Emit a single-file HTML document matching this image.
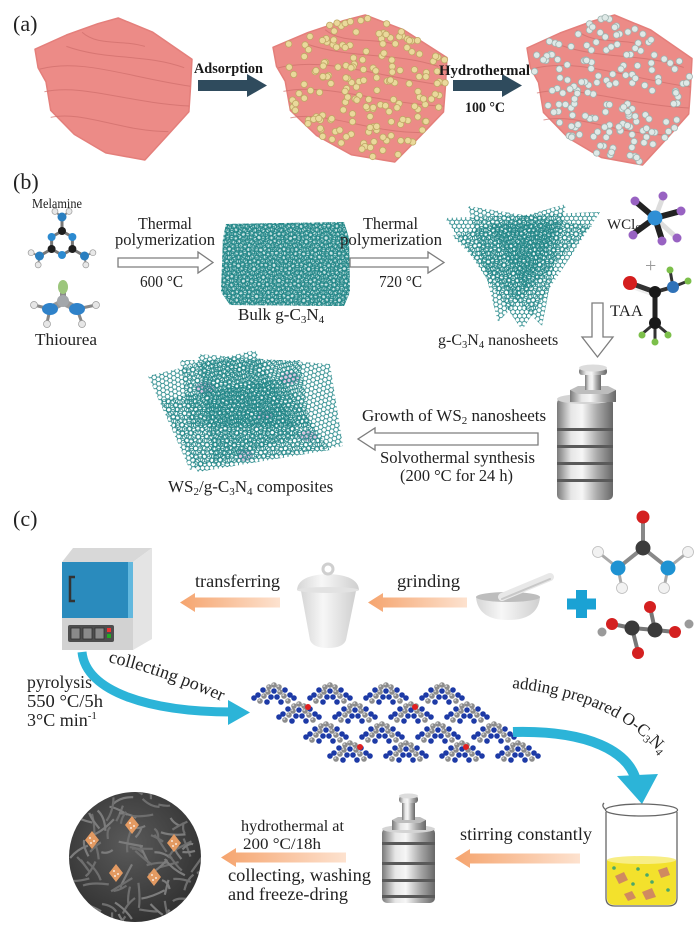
<!DOCTYPE html>
<html><head><meta charset="utf-8">
<style>
html,body{margin:0;padding:0;background:#fff;}
svg{display:block;}
text{font-family:"Liberation Serif",serif;fill:#222;}
.b{font-weight:bold;fill:#1a1a1a;}
</style></head>
<body>
<svg id="s" width="700" height="931" viewBox="0 0 700 931" xmlns="http://www.w3.org/2000/svg">
<defs>
<pattern id="p0" width="4.5" height="7.8" patternUnits="userSpaceOnUse"><path d="M2.25,0V1.3L0,2.6V5.2L2.25,6.5V7.8M2.25,1.3L4.5,2.6V5.2L2.25,6.5" fill="none" stroke="#1f8586" stroke-width="0.85"/></pattern>
<pattern id="p1" width="4.5" height="7.8" patternUnits="userSpaceOnUse" patternTransform="rotate(25)"><path d="M2.25,0V1.3L0,2.6V5.2L2.25,6.5V7.8M2.25,1.3L4.5,2.6V5.2L2.25,6.5" fill="none" stroke="#1f8586" stroke-width="0.85"/></pattern>
<pattern id="p2" width="4.5" height="7.8" patternUnits="userSpaceOnUse" patternTransform="rotate(-20)"><path d="M2.25,0V1.3L0,2.6V5.2L2.25,6.5V7.8M2.25,1.3L4.5,2.6V5.2L2.25,6.5" fill="none" stroke="#1f8586" stroke-width="0.85"/></pattern>
<pattern id="p3" width="4.5" height="7.8" patternUnits="userSpaceOnUse" patternTransform="rotate(50)"><path d="M2.25,0V1.3L0,2.6V5.2L2.25,6.5V7.8M2.25,1.3L4.5,2.6V5.2L2.25,6.5" fill="none" stroke="#1f8586" stroke-width="0.85"/></pattern>
<linearGradient id="metal" x1="0" y1="0" x2="1" y2="0">
<stop offset="0" stop-color="#7a7a7a"/><stop offset="0.25" stop-color="#e6e6e6"/><stop offset="0.45" stop-color="#f6f6f6"/><stop offset="0.72" stop-color="#a9a9a9"/><stop offset="1" stop-color="#686868"/>
</linearGradient>
<linearGradient id="org" x1="0" y1="0" x2="1" y2="0">
<stop offset="0" stop-color="#f5a46e"/><stop offset="1" stop-color="#fde2cf"/>
</linearGradient>
<linearGradient id="cru" x1="0" y1="0" x2="1" y2="0">
<stop offset="0" stop-color="#d6d6d6"/><stop offset="0.4" stop-color="#f7f7f7"/><stop offset="1" stop-color="#cfcfcf"/>
</linearGradient>
<radialGradient id="fl" cx="0.45" cy="0.4" r="0.6">
<stop offset="0" stop-color="#5a5a5a"/><stop offset="1" stop-color="#333"/>
</radialGradient>
<clipPath id="flc"><ellipse cx="135" cy="857" rx="66" ry="65"/></clipPath>
</defs>

<!-- ===== Panel (a) ===== -->
<text x="13" y="31" font-size="22">(a)</text>
<g id="cubes"></g>
<polygon points="198,80 247,80 247,74 267,85.5 247,97 247,91 198,91" fill="#2f4b5d"/>
<polygon points="453,80 502,80 502,74 522,85.5 502,97 502,91 453,91" fill="#2f4b5d"/>
<text class="b" x="194" y="73" font-size="14.5" textLength="69" lengthAdjust="spacingAndGlyphs">Adsorption</text>
<text class="b" x="439" y="75" font-size="14.5" textLength="91" lengthAdjust="spacingAndGlyphs">Hydrothermal</text>
<text class="b" x="465" y="112" font-size="14.5" textLength="40" lengthAdjust="spacingAndGlyphs">100 °C</text>

<!-- ===== Panel (b) ===== -->
<text x="13" y="189" font-size="22">(b)</text>
<text x="32" y="208" font-size="13.5" textLength="50" lengthAdjust="spacingAndGlyphs">Melamine</text>
<g id="mel"></g>
<!-- thiourea -->
<g stroke-linecap="round">
<line x1="63" y1="286" x2="63" y2="302" stroke="#8a8a8a" stroke-width="6"/>
<line x1="63" y1="302" x2="50" y2="309" stroke="#9a9a9a" stroke-width="7"/>
<line x1="63" y1="302" x2="77" y2="309" stroke="#9a9a9a" stroke-width="7"/>
<line x1="50" y1="309" x2="34" y2="305" stroke="#888" stroke-width="3"/>
<line x1="50" y1="309" x2="47" y2="323" stroke="#888" stroke-width="3"/>
<line x1="77" y1="309" x2="96" y2="305" stroke="#888" stroke-width="3"/>
<line x1="77" y1="309" x2="82" y2="323" stroke="#888" stroke-width="3"/>
<ellipse cx="63" cy="287" rx="5" ry="7" fill="#9cc67c"/>
<circle cx="63" cy="301" r="6" fill="#a3a7ab"/>
<ellipse cx="50" cy="309" rx="8" ry="6" fill="#2f82c9"/>
<ellipse cx="77" cy="309" rx="8" ry="6" fill="#2f82c9"/>
<circle cx="34" cy="305" r="3.5" fill="#e6e6e6" stroke="#999" stroke-width=".7"/>
<circle cx="47" cy="324" r="3.5" fill="#e6e6e6" stroke="#999" stroke-width=".7"/>
<circle cx="96" cy="305" r="3.5" fill="#e6e6e6" stroke="#999" stroke-width=".7"/>
<circle cx="82" cy="324" r="3.5" fill="#e6e6e6" stroke="#999" stroke-width=".7"/>
</g>
<text x="35" y="345" font-size="17" textLength="62" lengthAdjust="spacingAndGlyphs">Thiourea</text>

<text x="138" y="229" font-size="17" textLength="54" lengthAdjust="spacingAndGlyphs">Thermal</text>
<text x="115" y="245" font-size="17" textLength="100" lengthAdjust="spacingAndGlyphs">polymerization</text>
<polygon points="118,258 198,258 198,252 213,262.5 198,273 198,267 118,267" fill="#fff" stroke="#7d7d7d" stroke-width="1.3"/>
<text x="140" y="287" font-size="17" textLength="43" lengthAdjust="spacingAndGlyphs">600 °C</text>

<!-- bulk -->
<g>
<polygon points="226,224 344,222 349,238 350,292 344,306 230,305 221,292 223,238" fill="#8cc4c4" opacity="0.45"/>
<polygon points="226,224 344,222 349,238 350,292 344,306 230,305 221,292 223,238" fill="url(#p0)"/>
<polygon points="226,224 344,222 349,238 350,292 344,306 230,305 221,292 223,238" fill="url(#p1)"/>
<polygon points="226,224 344,222 349,238 350,292 344,306 230,305 221,292 223,238" fill="url(#p2)"/>
</g>
<text x="238" y="320" font-size="17">Bulk g-C<tspan font-size="11" dy="3">3</tspan><tspan dy="-3">N</tspan><tspan font-size="11" dy="3">4</tspan></text>

<text x="363" y="229" font-size="17" textLength="55" lengthAdjust="spacingAndGlyphs">Thermal</text>
<text x="340" y="245" font-size="17" textLength="102" lengthAdjust="spacingAndGlyphs">polymerization</text>
<polygon points="350,258 428,258 428,252 444,262.5 428,273 428,267 350,267" fill="#fff" stroke="#7d7d7d" stroke-width="1.3"/>
<text x="379" y="287" font-size="17" textLength="43" lengthAdjust="spacingAndGlyphs">720 °C</text>

<!-- nanosheets -->
<g>
<polygon points="445,218 600,212 522,330" fill="url(#p0)"/>
<polygon points="468,206 592,226 498,322" fill="url(#p1)"/>
<polygon points="452,236 566,204 542,326" fill="url(#p2)"/>
<polygon points="490,225 560,222 525,290" fill="url(#p3)"/>
</g>
<text x="438" y="345" font-size="16">g-C<tspan font-size="10.5" dy="3">3</tspan><tspan dy="-3">N</tspan><tspan font-size="10.5" dy="3">4</tspan><tspan dy="-3"> nanosheets</tspan></text>

<!-- WCl6 -->
<g>
<g stroke-linecap="round">
<line x1="655" y1="218" x2="635" y2="201" stroke="#222" stroke-width="6"/>
<line x1="655" y1="218" x2="663" y2="197" stroke="#ddd" stroke-width="5"/>
<line x1="655" y1="218" x2="681" y2="211" stroke="#222" stroke-width="6"/>
<line x1="655" y1="218" x2="677" y2="238" stroke="#ddd" stroke-width="5"/>
<line x1="655" y1="218" x2="662" y2="240" stroke="#222" stroke-width="6"/>
<line x1="655" y1="218" x2="633" y2="234" stroke="#222" stroke-width="6"/>
</g>
<circle cx="635" cy="201" r="4.5" fill="#9862c2"/>
<circle cx="663" cy="196" r="4.5" fill="#9862c2"/>
<circle cx="681" cy="211" r="4.5" fill="#9862c2"/>
<circle cx="677" cy="238" r="4.5" fill="#9862c2"/>
<circle cx="662" cy="241" r="4.5" fill="#9862c2"/>
<circle cx="633" cy="235" r="4.5" fill="#9862c2"/>
<circle cx="655" cy="218" r="7.5" fill="#2f8fd5"/>
</g>
<text x="607" y="229" font-size="15">WCl<tspan font-size="10" dy="3">6</tspan></text>
<text x="645" y="272" font-size="20" style="fill:#9a9a9a">+</text>

<!-- TAA -->
<g>
<line x1="630" y1="283" x2="655" y2="292" stroke="#333" stroke-width="5"/>
<line x1="632" y1="288" x2="655" y2="296" stroke="#eee" stroke-width="2"/>
<line x1="655" y1="292" x2="673" y2="287" stroke="#333" stroke-width="4"/>
<line x1="673" y1="287" x2="688" y2="281" stroke="#333" stroke-width="3"/>
<line x1="673" y1="287" x2="670" y2="270" stroke="#333" stroke-width="3"/>
<line x1="655" y1="292" x2="655" y2="323" stroke="#222" stroke-width="5"/>
<line x1="655" y1="323" x2="642" y2="334" stroke="#333" stroke-width="3"/>
<line x1="655" y1="323" x2="668" y2="334" stroke="#333" stroke-width="3"/>
<line x1="655" y1="323" x2="655" y2="340" stroke="#333" stroke-width="3"/>
<circle cx="630" cy="283" r="7" fill="#d41e1e"/>
<circle cx="655" cy="292" r="6" fill="#1a1a1a"/>
<circle cx="673" cy="287" r="6" fill="#2f72b8"/>
<circle cx="688" cy="281" r="3.5" fill="#7cbf4a"/>
<circle cx="670" cy="270" r="3.5" fill="#7cbf4a"/>
<circle cx="655" cy="323" r="6" fill="#1a1a1a"/>
<circle cx="642" cy="335" r="3.5" fill="#7cbf4a"/>
<circle cx="668" cy="335" r="3.5" fill="#7cbf4a"/>
<circle cx="655" cy="342" r="3.5" fill="#7cbf4a"/>
</g>
<text x="610" y="316" font-size="16" textLength="33" lengthAdjust="spacingAndGlyphs">TAA</text>

<polygon points="592,303 603,303 603,337 613,337 597.5,357 582,337 592,337" fill="#fff" stroke="#7d7d7d" stroke-width="1.3"/>

<!-- autoclave b -->
<g>
<rect x="557" y="398" width="56" height="102" rx="5" fill="url(#metal)"/>
<ellipse cx="585" cy="399" rx="28" ry="5" fill="#d4d4d4"/>
<rect x="557" y="428" width="56" height="3" fill="#5a5a5a"/>
<rect x="557" y="445" width="56" height="3" fill="#5a5a5a"/>
<rect x="557" y="462" width="56" height="3" fill="#5a5a5a"/>
<rect x="557" y="479" width="56" height="3" fill="#5a5a5a"/>
<rect x="570" y="390" width="46" height="12" fill="url(#metal)"/>
<polygon points="570,390 578,386 608,386 616,390 608,394 578,394" fill="#bdbdbd"/>
<rect x="585" y="372" width="16" height="18" fill="url(#metal)"/>
<rect x="579" y="368" width="28" height="7" rx="3" fill="url(#metal)"/>
<ellipse cx="593" cy="368" rx="14" ry="3.5" fill="#dcdcdc"/>
</g>

<text x="362" y="421" font-size="17">Growth of WS<tspan font-size="11" dy="3">2</tspan><tspan dy="-3"> nanosheets</tspan></text>
<polygon points="538,433 375,433 375,428 358,439 375,450 375,445 538,445" fill="#fff" stroke="#7d7d7d" stroke-width="1.3"/>
<text x="380" y="463" font-size="17" textLength="155" lengthAdjust="spacingAndGlyphs">Solvothermal synthesis</text>
<text x="400" y="481" font-size="17" textLength="113" lengthAdjust="spacingAndGlyphs">(200 °C for 24 h)</text>

<!-- composite -->
<g>
<ellipse cx="205" cy="388" rx="10" ry="6" fill="#ddc5e0"/>
<ellipse cx="290" cy="378" rx="9" ry="6" fill="#ddc5e0"/>
<ellipse cx="245" cy="455" rx="8" ry="6" fill="#ddc5e0"/>
<ellipse cx="308" cy="436" rx="9" ry="5" fill="#ddc5e0"/>
<ellipse cx="265" cy="415" rx="8" ry="5" fill="#ddc5e0"/>
<polygon points="148,376 255,350 300,436 190,470" fill="url(#p1)"/>
<polygon points="198,354 330,364 343,446 214,466" fill="url(#p2)"/>
<polygon points="160,400 282,378 330,450 198,472" fill="url(#p0)"/>
<polygon points="180,360 300,360 310,426 190,426" fill="url(#p3)"/>
</g>
<text x="168" y="492" font-size="17">WS<tspan font-size="11" dy="3">2</tspan><tspan dy="-3">/g-C</tspan><tspan font-size="11" dy="3">3</tspan><tspan dy="-3">N</tspan><tspan font-size="11" dy="3">4</tspan><tspan dy="-3"> composites</tspan></text>

<!-- ===== Panel (c) ===== -->
<text x="13" y="526" font-size="22">(c)</text>

<!-- furnace -->
<g>
<polygon points="62,562 73,548 152,548 133,562" fill="#d8d8d8"/>
<polygon points="133,562 152,548 152,639 133,650" fill="#e4e4e4"/>
<rect x="62" y="562" width="71" height="56" fill="#2a8bbd"/>
<rect x="128" y="562" width="5" height="56" fill="#62b8de"/>
<rect x="62" y="618" width="71" height="32" fill="#d2d2d2"/>
<path d="M75,577 h-5 v24 h5" stroke="#333" stroke-width="2.5" fill="none"/>
<rect x="68" y="625" width="46" height="17" rx="2" fill="#4e4e4e"/>
<rect x="71" y="628" width="9" height="11" fill="#8a8a8a" stroke="#333" stroke-width=".8"/>
<rect x="83" y="628" width="9" height="11" fill="#8a8a8a" stroke="#333" stroke-width=".8"/>
<rect x="95" y="628" width="9" height="11" fill="#8a8a8a" stroke="#333" stroke-width=".8"/>
<rect x="107" y="628" width="4" height="4" fill="#e33"/>
<rect x="107" y="634" width="4" height="4" fill="#2a2"/>
</g>

<text x="195" y="587" font-size="18" textLength="85" lengthAdjust="spacingAndGlyphs">transferring</text>
<polygon points="280,597.5 195,597.5 195,593 180,602.5 195,612 195,607.5 280,607.5" fill="url(#org)"/>

<!-- crucible -->
<g>
<path d="M301,591 L356,591 L346,640 Q343,648 328,648 Q313,648 310,640 Z" fill="url(#cru)"/>
<path d="M297,590 Q298,575 328,574 Q358,575 359,590 Z" fill="url(#cru)"/>
<ellipse cx="328" cy="590" rx="31" ry="3" fill="#e2e2e2"/>
<circle cx="328" cy="569" r="5" fill="none" stroke="#cfcfcf" stroke-width="3"/>
</g>

<text x="397" y="587" font-size="18" textLength="63" lengthAdjust="spacingAndGlyphs">grinding</text>
<polygon points="467,597.5 383,597.5 383,593 368,602.5 383,612 383,607.5 467,607.5" fill="url(#org)"/>

<!-- mortar -->
<g>
<path d="M476,597 Q478,620 508,620 Q538,620 540,597 Z" fill="url(#cru)"/>
<ellipse cx="508" cy="597" rx="32" ry="5" fill="#bdbdbd"/>
<line x1="502" y1="597" x2="550" y2="577" stroke="#e8e8e8" stroke-width="8" stroke-linecap="round"/>
<line x1="502" y1="599" x2="550" y2="579" stroke="#c8c8c8" stroke-width="2" stroke-linecap="round"/>
</g>
<!-- blue plus -->
<rect x="576" y="590" width="11" height="28" fill="#1aa2d4"/>
<rect x="567" y="598.5" width="29" height="11" fill="#1aa2d4"/>

<!-- urea -->
<g>
<line x1="643" y1="517" x2="643" y2="548" stroke="#888" stroke-width="4"/>
<line x1="643" y1="548" x2="618" y2="568" stroke="#888" stroke-width="4"/>
<line x1="643" y1="548" x2="668" y2="568" stroke="#888" stroke-width="4"/>
<line x1="618" y1="568" x2="598" y2="552" stroke="#aaa" stroke-width="3"/>
<line x1="618" y1="568" x2="622" y2="588" stroke="#aaa" stroke-width="3"/>
<line x1="668" y1="568" x2="688" y2="552" stroke="#aaa" stroke-width="3"/>
<line x1="668" y1="568" x2="664" y2="588" stroke="#aaa" stroke-width="3"/>
<circle cx="643" cy="517" r="6.5" fill="#d42020"/>
<circle cx="643" cy="548" r="7.5" fill="#3c3c3c"/>
<circle cx="618" cy="568" r="7.5" fill="#1e92d2"/>
<circle cx="668" cy="568" r="7.5" fill="#1e92d2"/>
<circle cx="598" cy="552" r="5.5" fill="#f2f2f2" stroke="#bbb" stroke-width=".8"/>
<circle cx="622" cy="588" r="5.5" fill="#f2f2f2" stroke="#bbb" stroke-width=".8"/>
<circle cx="688" cy="552" r="5.5" fill="#f2f2f2" stroke="#bbb" stroke-width=".8"/>
<circle cx="664" cy="588" r="5.5" fill="#f2f2f2" stroke="#bbb" stroke-width=".8"/>
</g>
<!-- oxalic acid -->
<g>
<line x1="632" y1="628" x2="655" y2="630" stroke="#777" stroke-width="4"/>
<line x1="655" y1="630" x2="650" y2="607" stroke="#777" stroke-width="4"/>
<line x1="632" y1="628" x2="612" y2="624" stroke="#777" stroke-width="4"/>
<line x1="632" y1="628" x2="638" y2="652" stroke="#777" stroke-width="4"/>
<line x1="655" y1="630" x2="675" y2="632" stroke="#777" stroke-width="4"/>
<circle cx="650" cy="607" r="6" fill="#d42020"/>
<circle cx="612" cy="624" r="6" fill="#d42020"/>
<circle cx="638" cy="653" r="6" fill="#d42020"/>
<circle cx="675" cy="632" r="6" fill="#d42020"/>
<circle cx="632" cy="628" r="7.5" fill="#3a3a3a"/>
<circle cx="655" cy="630" r="7.5" fill="#3a3a3a"/>
<circle cx="602" cy="632" r="4.5" fill="#9a9a9a"/>
<circle cx="689" cy="624" r="4.5" fill="#9a9a9a"/>
</g>

<!-- cyan arrow 1 -->
<path d="M82,652 C86,692 150,712 232,712" fill="none" stroke="#2cb4d8" stroke-width="9"/>
<polygon points="228,700 250,712.5 228,725" fill="#2cb4d8"/>
<path id="cp1" d="M108,662 Q168,676 232,706" fill="none"/>
<text font-size="18"><textPath href="#cp1">collecting power</textPath></text>
<text x="27" y="688" font-size="18" textLength="65" lengthAdjust="spacingAndGlyphs">pyrolysis</text>
<text x="27" y="707" font-size="18" textLength="76" lengthAdjust="spacingAndGlyphs">550 °C/5h</text>
<text x="27" y="726" font-size="18">3°C min<tspan font-size="11" dy="-7">-1</tspan></text>

<g id="net"></g>

<!-- cyan arrow 2 -->
<path d="M513,732 C590,730 628,752 636,780" fill="none" stroke="#2cb4d8" stroke-width="10"/>
<polygon points="617,776 658,774 642,804" fill="#2cb4d8"/>
<path id="cp2" d="M512,688 C575,694 640,716 674,774" fill="none"/>
<text font-size="17"><textPath href="#cp2">adding prepared O-C<tspan font-size="11" dy="3">3</tspan><tspan dy="-3">N</tspan><tspan font-size="11" dy="3">4</tspan></textPath></text>

<!-- beaker -->
<g>
<path d="M607,860 L676,860 L676,898 Q676,905 668,905 L615,905 Q607,905 607,898 Z" fill="#f3e12c"/>
<ellipse cx="641.5" cy="860" rx="34.5" ry="4" fill="#f8ee85"/>
<path d="M606,812 L606,898 Q606,906 615,906 L668,906 Q677,906 677,898 L677,812" fill="none" stroke="#666" stroke-width="1.3"/>
<ellipse cx="641.5" cy="810" rx="36" ry="6" fill="none" stroke="#666" stroke-width="1.3"/>
<path d="M606,810 Q601,806 604,803" fill="none" stroke="#666" stroke-width="1.3"/>
<polygon points="615,876 624,872 628,880 619,884" fill="#d08a60"/>
<polygon points="642,892 652,888 656,897 646,900" fill="#d08a60"/>
<polygon points="658,870 667,867 670,875 661,878" fill="#d08a60"/>
<polygon points="624,894 632,891 636,898 628,901" fill="#d08a60"/>
<circle cx="614" cy="868" r="1.8" fill="#4aa86a"/>
<circle cx="638" cy="869" r="1.8" fill="#4aa86a"/>
<circle cx="652" cy="882" r="1.8" fill="#4aa86a"/>
<circle cx="668" cy="890" r="1.8" fill="#4aa86a"/>
<circle cx="633" cy="884" r="1.8" fill="#4aa86a"/>
<circle cx="647" cy="875" r="1.8" fill="#4aa86a"/>
</g>

<text x="460" y="840" font-size="18" textLength="132" lengthAdjust="spacingAndGlyphs">stirring constantly</text>
<polygon points="580,853.5 470,853.5 470,849 455,858.5 470,868 470,863.5 580,863.5" fill="url(#org)"/>

<!-- autoclave c -->
<g>
<rect x="382" y="828" width="53" height="75" rx="5" fill="url(#metal)"/>
<ellipse cx="408.5" cy="829" rx="26.5" ry="4" fill="#d4d4d4"/>
<rect x="382" y="842" width="53" height="3" fill="#5a5a5a"/>
<rect x="382" y="862" width="53" height="3" fill="#5a5a5a"/>
<rect x="382" y="879" width="53" height="3" fill="#5a5a5a"/>
<rect x="382" y="895" width="53" height="3" fill="#5a5a5a"/>
<rect x="392" y="820" width="34" height="10" fill="url(#metal)"/>
<polygon points="392,820 398,817 420,817 426,820 420,823 398,823" fill="#bdbdbd"/>
<rect x="402" y="800" width="13" height="20" fill="url(#metal)"/>
<rect x="399" y="796" width="19" height="7" rx="3" fill="url(#metal)"/>
<ellipse cx="408.5" cy="796" rx="9.5" ry="2.5" fill="#dcdcdc"/>
</g>

<text x="241" y="831" font-size="16" textLength="103" lengthAdjust="spacingAndGlyphs">hydrothermal at</text>
<text x="243" y="849" font-size="16" textLength="78" lengthAdjust="spacingAndGlyphs">200 °C/18h</text>
<polygon points="346,852.5 236,852.5 236,848 221,857.5 236,867 236,862.5 346,862.5" fill="url(#org)"/>
<text x="228" y="881" font-size="18" textLength="143" lengthAdjust="spacingAndGlyphs">collecting, washing</text>
<text x="228" y="900" font-size="18" textLength="120" lengthAdjust="spacingAndGlyphs">and freeze-dring</text>

<!-- flower -->
<ellipse cx="135" cy="857" rx="66" ry="65" fill="url(#fl)"/>
<g id="petals" clip-path="url(#flc)"></g>
<g id="dia"></g>

</svg>
<script>
(function(){
const NS="http://www.w3.org/2000/svg";
function el(tag,a,p){const e=document.createElementNS(NS,tag);for(const k in a)e.setAttribute(k,a[k]);p.appendChild(e);return e;}
let seed=12345;function rnd(){seed=(seed*1664525+1013904223)%4294967296;return seed/4294967296;}
function inPoly(x,y,p){let c=false;for(let i=0,j=p.length-1;i<p.length;j=i++){const xi=p[i][0],yi=p[i][1],xj=p[j][0],yj=p[j][1];if(((yi>y)!=(yj>y))&&(x<(xj-xi)*(y-yi)/(yj-yi)+xi))c=!c;}return c;}

// cubes
const G=document.getElementById('cubes');
const N=[[0,0.22],[0.2,0.12],[0.4,0.04],[0.53,0],[0.75,0.1],[1,0.29],[0.99,0.5],[0.98,0.66],[0.85,0.82],[0.7,1],[0.45,0.95],[0.25,0.82],[0.1,0.65],[0.07,0.45],[0.02,0.35]];
const cubes=[[35,18,157,142,null],[273,15,174,147,'y'],[527,15,165,150,'w']];
cubes.forEach(c=>{
 const P=N.map(p=>[c[0]+p[0]*c[2],c[1]+p[1]*c[3]]);
 el('polygon',{points:P.map(p=>p[0].toFixed(1)+','+p[1].toFixed(1)).join(' '),fill:'#ec8b87',stroke:'#e47f7b','stroke-width':1.5,'stroke-linejoin':'round'},G);
 const L=(a,b)=>(c[0]+a*c[2]).toFixed(1)+','+(c[1]+b*c[3]).toFixed(1);
 const lines=[[[0.03,0.36],[0.3,0.28],[0.6,0.42],[0.99,0.48]],[[0.06,0.52],[0.3,0.46],[0.6,0.6],[0.98,0.62]],[[0.2,0.2],[0.45,0.3],[0.7,0.25],[0.95,0.35]],[[0.1,0.7],[0.3,0.65],[0.55,0.8],[0.85,0.8]],[[0.3,0.1],[0.4,0.2],[0.55,0.15],[0.7,0.2]]];
 lines.forEach(l=>{el('path',{d:'M'+L(l[0][0],l[0][1])+'C'+L(l[1][0],l[1][1])+' '+L(l[2][0],l[2][1])+' '+L(l[3][0],l[3][1]),fill:'none',stroke:'#cf6e6b','stroke-width':1,opacity:.7},G);});
 if(c[4]){for(let i=0;i<250;i++){const x=c[0]+rnd()*c[2],y=c[1]+rnd()*c[3];if(!inPoly(x,y,P))continue;
  el('circle',{cx:x.toFixed(1),cy:y.toFixed(1),r:3.2,fill:c[4]=='y'?'#ead99b':'#dfe9e7',stroke:c[4]=='y'?'#bfa765':'#9fb3b0','stroke-width':.8},G);}}
});

// melamine
const M=document.getElementById('mel');
const cx=62,cy=243,R=12;const ring=[];
for(let k=0;k<6;k++){const a=(-90+60*k)*Math.PI/180;ring.push([cx+R*Math.cos(a),cy+R*Math.sin(a)]);}
for(let k=0;k<6;k++){const a=ring[k],b=ring[(k+1)%6];el('line',{x1:a[0],y1:a[1],x2:b[0],y2:b[1],stroke:'#777','stroke-width':3},M);}
[0,2,4].forEach(k=>{const ang=(-90+60*k)*Math.PI/180;const n=[cx+26*Math.cos(ang),cy+26*Math.sin(ang)];
 el('line',{x1:ring[k][0],y1:ring[k][1],x2:n[0],y2:n[1],stroke:'#777','stroke-width':3},M);
 [-0.9,0.9].forEach(d=>{const h=[n[0]+9*Math.cos(ang+d),n[1]+9*Math.sin(ang+d)];
  el('line',{x1:n[0],y1:n[1],x2:h[0],y2:h[1],stroke:'#888','stroke-width':2},M);
  el('circle',{cx:h[0],cy:h[1],r:3,fill:'#e8e8e8',stroke:'#999','stroke-width':.7},M);});
 el('circle',{cx:n[0],cy:n[1],r:4.5,fill:'#2a7fc0'},M);});
ring.forEach((p,k)=>el('circle',{cx:p[0],cy:p[1],r:4,fill:k%2==0?'#1e1e1e':'#2c8ad0'},M));

// network (c)
const NET=document.getElementById('net');
const rows=[[274,694],[299,713],[326,733],[350,752]];
const unit=[[-5,-7,'g'],[0,-9,'g'],[5,-7,'g'],[-11,-4,'b'],[11,-4,'b'],[-6,-2,'g'],[0,-3,'b'],[6,-2,'g'],[-16,1,'b'],[-10,2,'g'],[-3,3,'b'],[3,3,'b'],[10,2,'g'],[16,1,'b'],[-14,7,'g'],[-7,8,'b'],[7,8,'b'],[14,7,'g'],[-20,4,'b'],[20,4,'b']];
rows.forEach(r=>{for(let k=0;k<4;k++){const ux=r[0]+k*56,uy=r[1];
 unit.forEach(a=>{const x=ux+a[0],y=uy+a[1];
  el('circle',{cx:x,cy:y,r:2.8,fill:a[2]=='b'?'#1d3aa6':'#8c8c8c'},NET);
  if(a[2]=='g')el('circle',{cx:x-0.8,cy:y-0.9,r:1,fill:'#cfcfcf'},NET);});}});
[[308,707],[415,707],[360,747],[466,747]].forEach(p=>el('circle',{cx:p[0],cy:p[1],r:3,fill:'#e02020'},NET));

// flower petals
const PT=document.getElementById('petals');
for(let i=0;i<80;i++){const a=rnd()*Math.PI*2,rr=Math.sqrt(rnd())*64;const x=135+rr*Math.cos(a),y=857+rr*Math.sin(a);
 const t=rnd()*Math.PI*2,len=10+rnd()*16;const x2=x+len*Math.cos(t),y2=y+len*Math.sin(t);
 const qx=(x+x2)/2+8*(rnd()-0.5),qy=(y+y2)/2+8*(rnd()-0.5);
 el('path',{d:`M${x.toFixed(1)},${y.toFixed(1)}Q${qx.toFixed(1)},${qy.toFixed(1)} ${x2.toFixed(1)},${y2.toFixed(1)}`,fill:'none',stroke:rnd()<0.5?'#6e6e6e':'#7c7c7c','stroke-width':2.2},PT);}
const D=document.getElementById('dia');
[[132,825],[92,840],[174,843],[116,873],[154,877]].forEach(p=>{
 el('polygon',{points:`${p[0]-7},${p[1]} ${p[0]},${p[1]-9} ${p[0]+7},${p[1]} ${p[0]},${p[1]+9}`,fill:'#e39a62'},D);
 [[-2,-2],[2,1],[-1,3]].forEach(o=>el('circle',{cx:p[0]+o[0],cy:p[1]+o[1],r:0.9,fill:'#fff'},D));});
})();
</script>
</body></html>
